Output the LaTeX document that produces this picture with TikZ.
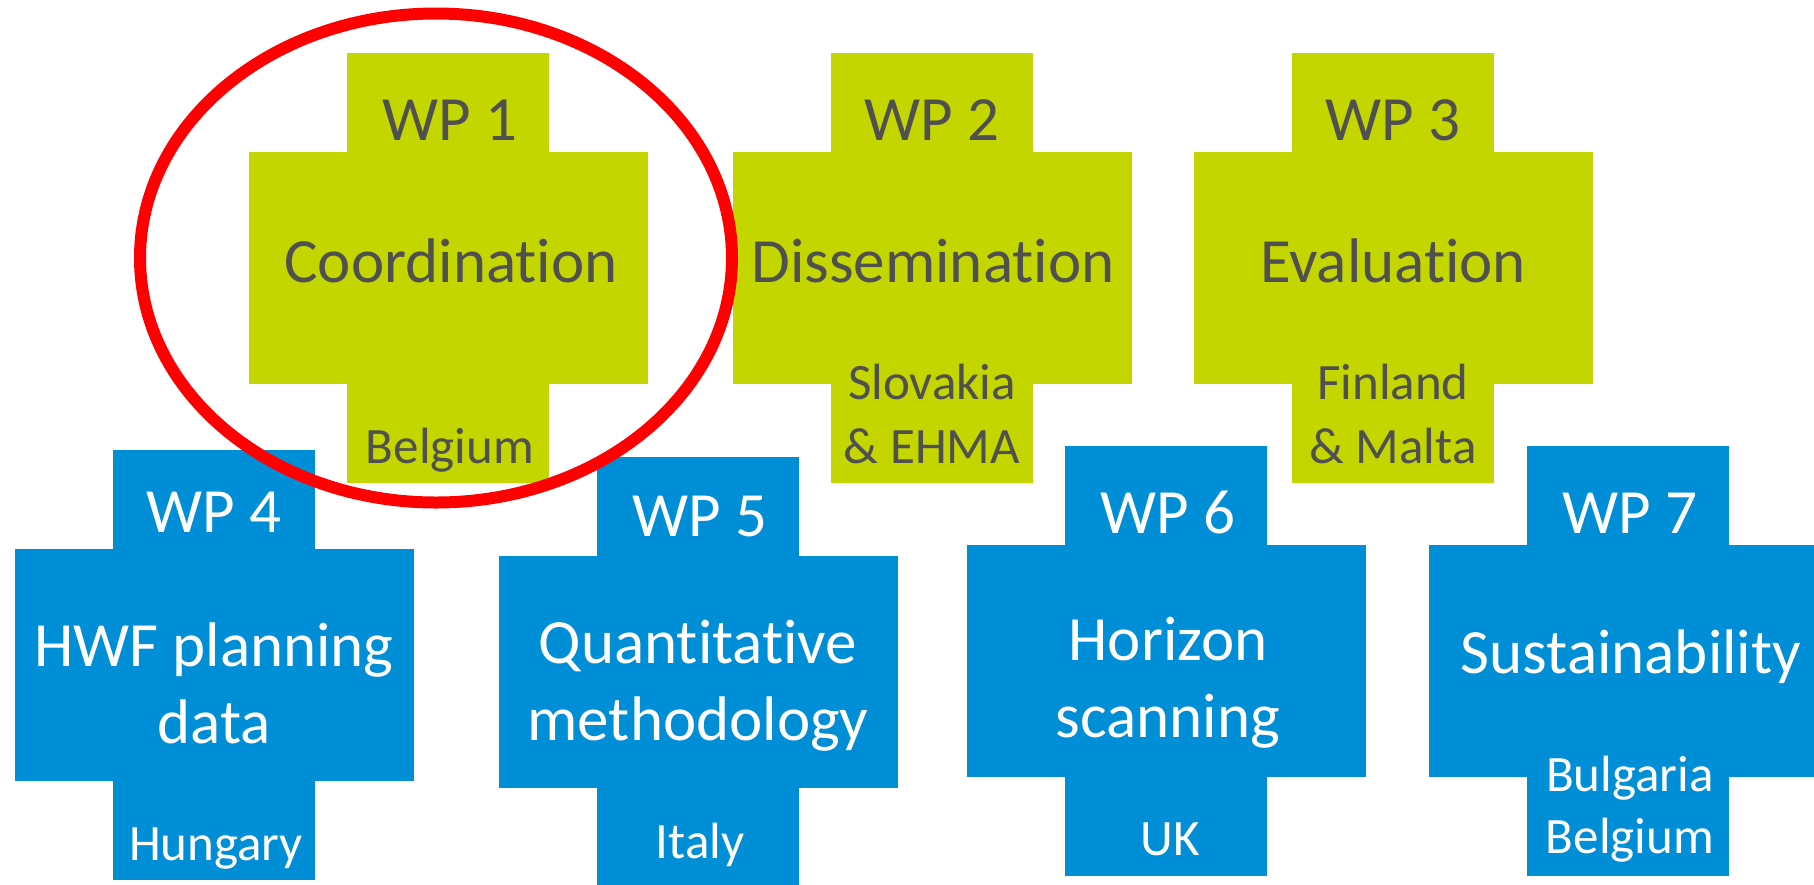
\documentclass[tikz,border=0pt]{standalone}
\usepackage{fontspec}
\setmainfont{Carlito}[Ligatures=CommonOff]
\usetikzlibrary{positioning}
\definecolor{wpgreen}{RGB}{196,214,0}
\definecolor{wpblue}{RGB}{0,142,214}
\definecolor{wpgrey}{RGB}{80,80,80}
\definecolor{wpred}{RGB}{255,0,0}
\tikzset{
  wpbar/.style={rectangle, draw=none, inner sep=0pt,
                minimum width=199.5pt, minimum height=116pt},
  wparm/.style={rectangle, draw=none, inner sep=0pt,
                minimum width=101pt, minimum height=49.7pt},
  horizontal/.style={fill=wpgreen},
  core/.style={fill=wpblue},
  wpid/.style={anchor=base, inner sep=0pt, font=\fontsize{31.5}{38}\selectfont},
  wptitle/.style={anchor=base, inner sep=0pt, align=center,
                  font=\fontsize{31.5}{38.3}\selectfont},
  wpland/.style={anchor=base, inner sep=0pt, align=center,
                 font=\fontsize{25.5}{32}\selectfont},
  ongreen/.style={text=wpgrey},
  onblue/.style={text=white},
  highlight/.style={draw=wpred, line width=6pt},
}

\begin{document}
\begin{tikzpicture}[x=0.5pt, y=-0.5pt, node distance=-0.5pt]
  \useasboundingbox (0,0) rectangle (1814,884);
  \clip (0,0) rectangle (1814,884);

  % Horizontal work packages (green crosses)
  \node[wpbar, horizontal] (wp1) at (448,268) {};
  \node[wparm, horizontal, above=of wp1] (wp1top) {};
  \node[wparm, horizontal, below=of wp1] (wp1bot) {};
  \node[wpbar, horizontal] (wp2) at (932,268) {};
  \node[wparm, horizontal, above=of wp2] (wp2top) {};
  \node[wparm, horizontal, below=of wp2] (wp2bot) {};
  \node[wpbar, horizontal] (wp3) at (1393,268) {};
  \node[wparm, horizontal, above=of wp3] (wp3top) {};
  \node[wparm, horizontal, below=of wp3] (wp3bot) {};

  % Core work packages (blue crosses)
  \node[wpbar, core] (wp4) at (214,665) {};
  \node[wparm, core, above=of wp4] (wp4top) {};
  \node[wparm, core, below=of wp4] (wp4bot) {};
  \node[wpbar, core] (wp5) at (698,672) {};
  \node[wparm, core, above=of wp5] (wp5top) {};
  \node[wparm, core, below=of wp5] (wp5bot) {};
  \node[wpbar, core] (wp6) at (1166,661) {};
  \node[wparm, core, above=of wp6] (wp6top) {};
  \node[wparm, core, below=of wp6] (wp6bot) {};
  \node[wpbar, core] (wp7) at (1628,661) {};
  \node[wparm, core, above=of wp7] (wp7top) {};
  \node[wparm, core, below=of wp7] (wp7bot) {};

  % Labels (multi-line nodes sit on their last baseline)
  \node[wpid, ongreen] (id1) at (450,140) {WP 1};
  \node[wptitle, ongreen] (title1) at (451,282) {Coordination};
  \node[wpland, ongreen] (land1) at (450,463) {Belgium};
  \node[wpid, ongreen] (id2) at (932,140) {WP 2};
  \node[wptitle, ongreen] (title2) at (933,282) {Dissemination};
  \node[wpland, ongreen] (land2) at (932,463) {Slovakia\\\& EHMA};
  \node[wpid, ongreen] (id3) at (1393,140) {WP 3};
  \node[wptitle, ongreen] (title3) at (1393,282) {Evaluation};
  \node[wpland, ongreen] (land3) at (1393,463) {Finland\\\& Malta};

  \node[wpid, onblue] (id4) at (214,532) {WP 4};
  \node[wptitle, onblue] (title4) at (214,743) {HWF planning\\data};
  \node[wpland, onblue] (land4) at (216,860) {Hungary};
  \node[wpid, onblue] (id5) at (700,536) {WP 5};
  \node[wptitle, onblue] (title5) at (698,740) {Quantitative\\methodology};
  \node[wpland, onblue] (land5) at (700,858) {Italy};
  \node[wpid, onblue] (id6) at (1168,533) {WP 6};
  \node[wptitle, onblue] (title6) at (1168,737) {Horizon\\scanning};
  \node[wpland, onblue] (land6) at (1170,855) {UK};
  \node[wpid, onblue] (id7) at (1630,533) {WP 7};
  \node[wptitle, onblue] (title7) at (1631,673) {Sustainability};
  \node[wpland, onblue, font=\fontsize{25.5}{30.8}\selectfont] (land7) at (1630,853) {Bulgaria\\Belgium};

  % Highlight round WP 1
  \draw[highlight] (436,258) ellipse [x radius=296, y radius=244.5];
\end{tikzpicture}
\end{document}
